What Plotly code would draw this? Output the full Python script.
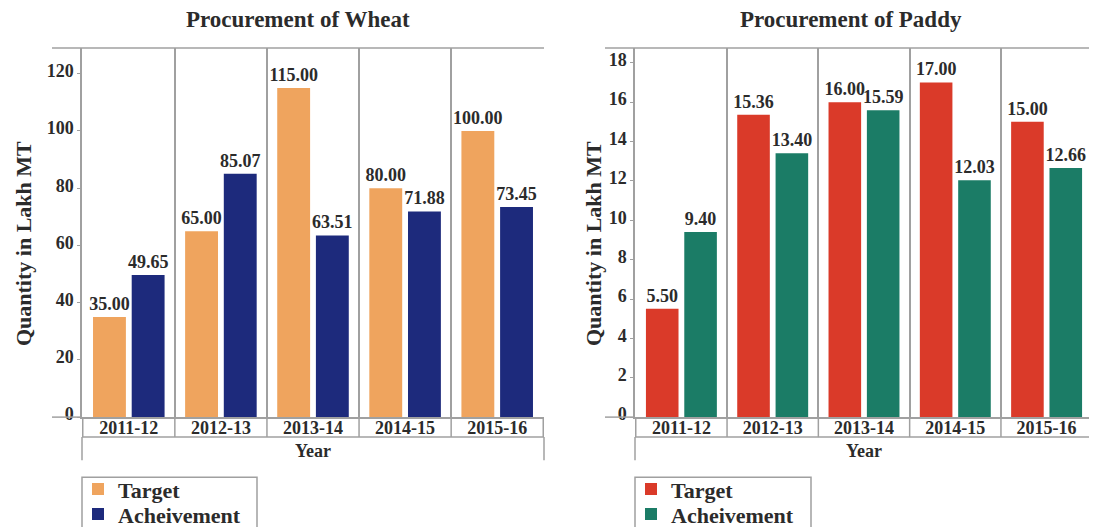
import plotly.graph_objects as go
from plotly.subplots import make_subplots

years = ["2011-12", "2012-13", "2013-14", "2014-15", "2015-16"]
wheat_target = [35.00, 65.00, 115.00, 80.00, 100.00]
wheat_achievement = [49.65, 85.07, 63.51, 71.88, 73.45]
paddy_target = [5.50, 15.36, 16.00, 17.00, 15.00]
paddy_achievement = [9.40, 13.40, 15.59, 12.03, 12.66]

SERIF = "Liberation Serif, Times New Roman, serif"
GRID = "#a0a0a0"
TXT = "#2b2b2b"
# page body has an 8px margin; the figure is made taller than the window so
# the legends (cut off at the bottom, as in the source) don't push margins.
# K corrects a small vertical squeeze seen in the render.
OFF = 8
K = 0.99
W, H = 1097 - OFF, 720


def px_x(v):
    return (v - OFF) / W


def px_y(v):
    return (H - (v - OFF) / K) / H


fig = make_subplots(rows=1, cols=2)

# col, title, target, achievement, colours, legends, y range, dtick,
# plot left/right px, title x px, y-title x px, legend box left/right px
panels = [
    (1, "Procurement of Wheat", wheat_target, wheat_achievement,
     "#EFA45E", "#1D2A7C", ("legend", "legend3"), [0, 129], 20,
     (82, 544), 298, 23, (82, 257)),
    (2, "Procurement of Paddy", paddy_target, paddy_achievement,
     "#DA3A29", "#1B7C66", ("legend2", "legend4"), [0, 18.75], 2,
     (635, 1093), 851, 593, (635, 811)),
]

y_dom = [px_y(417), px_y(48)]
shapes = []
annotations = []
legends = {}

legend_style = dict(
    xanchor="left", yanchor="top", borderwidth=0, bgcolor="rgba(0,0,0,0)",
    font=dict(family=SERIF, size=22, color=TXT, weight="bold"),
)

for col, title, target, ach, c1, c2, legs, yr, dt, (xl, xr), tx, ytx, (bl, br) in panels:
    series = [("Target", target, c1, legs[0], 490), ("Acheivement", ach, c2, legs[1], 515)]
    for name, vals, color, leg, row_y in series:
        fig.add_trace(go.Bar(
            x=years, y=vals, name=name, marker_color=color,
            marker_line_width=0, legend=leg,
            texttemplate="%{y:.2f}", textposition="outside",
            textfont=dict(family=SERIF, size=18, color=TXT, weight="bold"),
            constraintext="none", cliponaxis=False,
        ), row=1, col=col)
        legends[leg] = dict(x=px_x(bl - 4), y=px_y(row_y - 22), **legend_style)

    sfx = "" if col == 1 else "2"
    fig.update_xaxes(
        domain=[px_x(xl), px_x(xr)], type="category", tickson="boundaries",
        showgrid=True, gridcolor=GRID, gridwidth=1.5, ticks="",
        showline=True, linecolor=GRID, linewidth=1.5,
        ticklabelstandoff=-6, tickangle=0,
        tickfont=dict(family=SERIF, size=18, color=TXT, weight="bold"),
        row=1, col=col,
    )
    fig.update_yaxes(
        domain=y_dom, range=yr, dtick=dt, showgrid=False, zeroline=False,
        showline=True, linecolor=GRID, linewidth=1.5,
        ticks="outside", ticklen=3, tickcolor=GRID, ticklabelshift=-3,
        tickfont=dict(family=SERIF, size=18, color=TXT, weight="bold"),
        row=1, col=col,
    )

    xref_d = "x%s domain" % sfx
    xref = "x%s" % sfx
    line = dict(color=GRID, width=1.5)
    ext = -30 / (xr - xl)
    # frame lines extending left of the axis
    shapes.append(dict(type="line", xref=xref_d, yref="paper", x0=ext, x1=1,
                       y0=px_y(48), y1=px_y(48), line=line))
    shapes.append(dict(type="line", xref=xref_d, yref="paper", x0=ext, x1=0,
                       y0=px_y(417), y1=px_y(417), line=line))
    # category label row separators
    for i in range(len(years) + 1):
        shapes.append(dict(type="line", xref=xref, yref="paper",
                           x0=i - 0.5, x1=i - 0.5,
                           y0=px_y(417), y1=px_y(437), line=line))
    shapes.append(dict(type="line", xref=xref_d, yref="paper", x0=0, x1=1,
                       y0=px_y(437), y1=px_y(437), line=line))
    for xd in (0, 1):
        shapes.append(dict(type="line", xref=xref_d, yref="paper", x0=xd, x1=xd,
                           y0=px_y(437), y1=px_y(460), line=line))
    # legend frame (runs off the bottom, as in the source)
    shapes.append(dict(type="rect", xref="paper", yref="paper",
                       x0=px_x(bl), x1=px_x(br), y0=px_y(560), y1=px_y(477),
                       line=line))

    annotations.append(dict(text=title, xref="paper", yref="paper",
                            x=px_x(tx), y=px_y(19), xanchor="center", yanchor="middle",
                            showarrow=False,
                            font=dict(family=SERIF, size=23, color=TXT, weight="bold")))
    annotations.append(dict(text="Quantity in Lakh MT", xref="paper", yref="paper",
                            x=px_x(ytx), y=px_y(244), xanchor="center", yanchor="middle",
                            textangle=-90, showarrow=False,
                            font=dict(family=SERIF, size=22, color=TXT, weight="bold")))
    annotations.append(dict(text="Year", xref=xref_d, yref="paper",
                            x=0.5, y=px_y(451), xanchor="center", yanchor="middle",
                            showarrow=False,
                            font=dict(family=SERIF, size=18, color=TXT, weight="bold")))

fig.update_layout(
    width=W, height=H,
    margin=dict(l=0, r=0, t=0, b=0),
    paper_bgcolor="white", plot_bgcolor="white",
    barmode="group", bargap=0.16, bargroupgap=0.15,
    showlegend=True,
    shapes=shapes, annotations=annotations,
    **legends,
)

fig.write_html("out.html")
